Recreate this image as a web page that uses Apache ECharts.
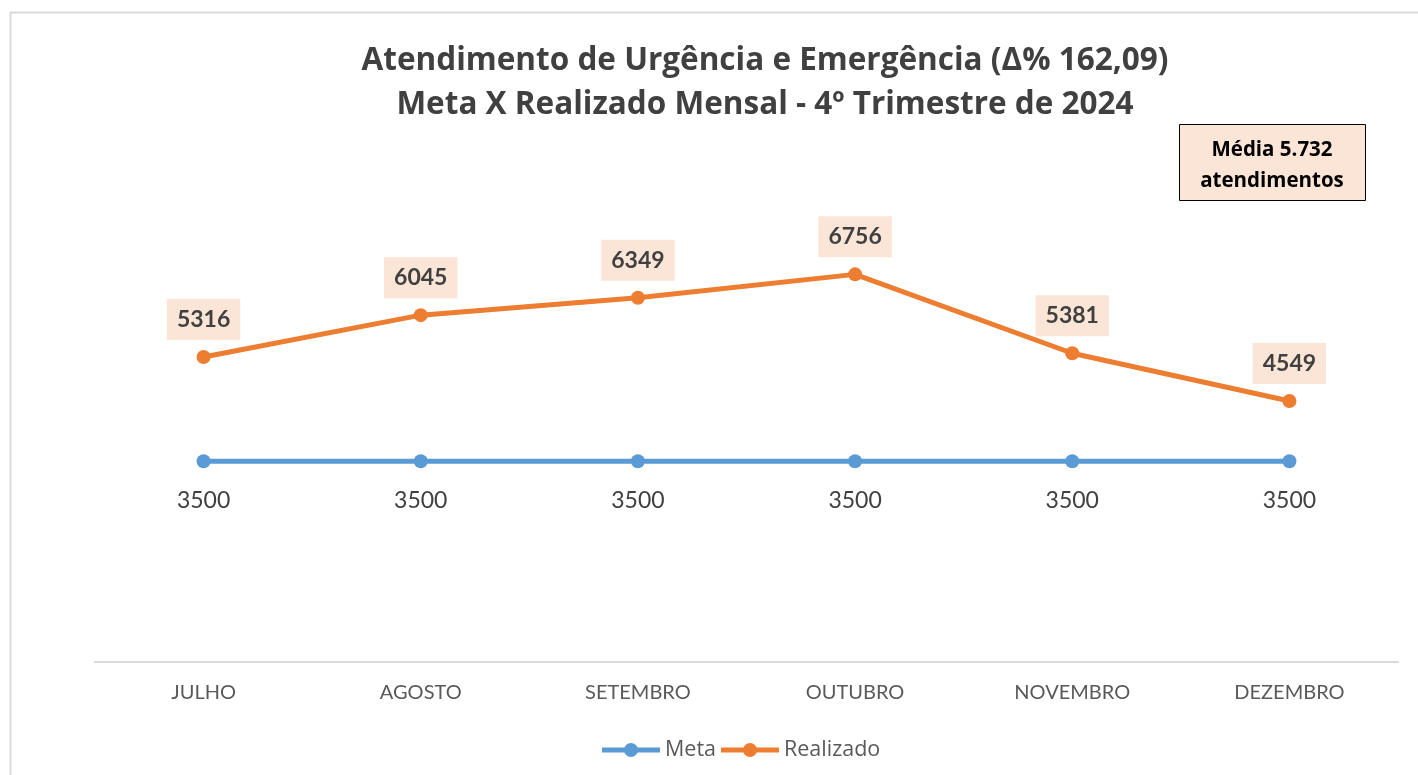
<!DOCTYPE html>
<html>
<head>
<meta charset="utf-8">
<script src="https://cdn.jsdelivr.net/npm/echarts@6/dist/echarts.min.js"></script>
<style>
html,body{margin:0;padding:0;background:#fff;}
#chart{width:1418px;height:775px;}
</style>
</head>
<body>
<div id="chart"></div>
<script>
var meses = ['JULHO', 'AGOSTO', 'SETEMBRO', 'OUTUBRO', 'NOVEMBRO', 'DEZEMBRO'];
var meta = [3500, 3500, 3500, 3500, 3500, 3500];
var realizado = [5316, 6045, 6349, 6756, 5381, 4549];
var mediaTexto = 'Média 5.732\natendimentos';

var fonte = 'Lato, "Open Sans", sans-serif';
var fonte2 = '"Open Sans", Lato, sans-serif';
// icone da legenda: linha grossa com bolinha no meio
var iconeLegenda = 'path://M0,4.5L58,4.5L58,9.5L0,9.5Z M22,7A7,7 0 1,1 36,7A7,7 0 1,1 22,7Z';

var chart = echarts.init(document.getElementById('chart'));
var option = {
    backgroundColor: '#fff',
    title: {
        text: 'Atendimento de Urgência e Emergência (Δ% 162,09)\nMeta X Realizado Mensal - 4º Trimestre de 2024',
        left: 760,
        textAlign: 'center',
        top: 34,
        textStyle: {fontFamily: fonte2, fontSize: 31.5, fontWeight: 'bold', color: '#404040', lineHeight: 44}
    },
    graphic: [
        {type: 'rect', left: 8, top: 10, shape: {width: 1420, height: 780},
            style: {fill: 'none', stroke: '#d9d9d9', lineWidth: 2}, silent: true},
        {type: 'rect', left: 1179, top: 124, shape: {width: 186, height: 76},
            style: {fill: '#fbe5d6', stroke: '#000', lineWidth: 1}, z: 10},
        {type: 'text', x: 1272, y: 166, z: 11,
            style: {text: mediaTexto, fontFamily: fonte2, fontSize: 20.5, fontWeight: 'bold',
                fill: '#000', align: 'center', verticalAlign: 'middle', lineHeight: 31}}
    ],
    legend: {
        bottom: 9,
        left: 597,
        itemWidth: 58,
        itemHeight: 14,
        itemGap: 5,
        textStyle: {fontFamily: fonte2, fontSize: 21.5, color: '#595959'},
        data: [{name: 'Meta', icon: iconeLegenda}, {name: 'Realizado', icon: iconeLegenda}]
    },
    grid: {left: 95, right: 20, top: 203, bottom: 113},
    xAxis: {
        type: 'category',
        data: meses,
        axisLine: {lineStyle: {color: '#d9d9d9', width: 2}},
        axisTick: {show: false},
        axisLabel: {fontFamily: fonte, fontSize: 20, color: '#595959', margin: 21}
    },
    yAxis: {
        type: 'value', min: 0, max: 8000, show: false,
        splitLine: {show: false}
    },
    series: [
        {
            name: 'Meta', type: 'line', data: meta,
            symbol: 'circle', symbolSize: 14,
            lineStyle: {width: 5, color: '#5b9bd5'},
            itemStyle: {color: '#5b9bd5'},
            label: {show: true, position: 'bottom', distance: 21,
                fontFamily: fonte, fontSize: 23, color: '#404040'}
        },
        {
            name: 'Realizado', type: 'line', data: realizado,
            symbol: 'circle', symbolSize: 14,
            lineStyle: {width: 5, color: '#ed7d31'},
            itemStyle: {color: '#ed7d31'},
            label: {show: true, position: 'top', distance: 10,
                fontFamily: fonte, fontSize: 23, fontWeight: 'bold', color: '#404040',
                backgroundColor: '#fbe5d6', padding: [9, 10, 9, 10]}
        }
    ]
};
chart.setOption(option);
</script>
</body>
</html>
